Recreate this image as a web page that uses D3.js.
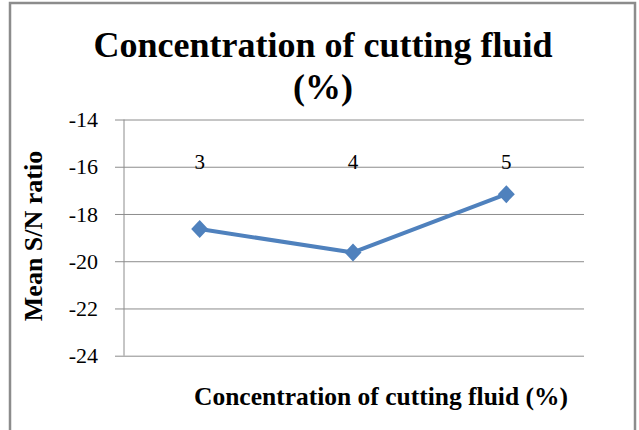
<!DOCTYPE html>
<html><head><meta charset="utf-8">
<script src="https://cdn.jsdelivr.net/npm/d3@7"></script>
<style>body{margin:0;background:#fff}svg{display:block}</style>
</head><body>
<svg id="c" width="639" height="430"></svg>
<script>
const categories = ["3", "4", "5"];
const values = [-18.64, -19.63, -17.16];
const yTicks = [-14, -16, -18, -20, -22, -24];
const title = ["Concentration of cutting fluid", "(%)"];
const xTitle = "Concentration of cutting fluid (%)";
const yTitle = "Mean S/N ratio";

const svg = d3.select("#c");
const serif = "'Liberation Serif','Times New Roman',serif";

// outer frame
svg.append("rect").attr("x", 10).attr("y", 3).attr("width", 625).attr("height", 440)
  .attr("fill", "#fff").attr("stroke", "#8c8c8c").attr("stroke-width", 2.5);

const L = 124, R = 584, T = 119.5, B = 355.7;
const x = d3.scaleBand().domain(categories).range([L, R]);
const y = d3.scaleLinear().domain([-24, -14]).range([B, T]);

// gridlines + ticks
const yAxis = d3.axisLeft(y).tickValues(yTicks).tickSize(-(R - L)).tickSizeOuter(0).tickPadding(26)
  .tickFormat(d => "-" + Math.abs(d));
const ga = svg.append("g").attr("transform", `translate(${L},0)`).call(yAxis);
ga.attr("font-family", null).attr("font-size", null);
ga.select(".domain").remove();
ga.selectAll(".tick line").attr("stroke", "#8c8c8c").attr("x1", -9).attr("stroke-width", 1);
ga.selectAll(".tick text").style("font-family", serif).style("font-size", "22px").attr("fill", "#000");

// vertical axis line
svg.append("line").attr("x1", L).attr("x2", L).attr("y1", T).attr("y2", B)
  .attr("stroke", "#8c8c8c").attr("stroke-width", 1);

// category labels near top
svg.append("g").selectAll("text").data(categories).join("text")
  .attr("x", d => x(d) + x.bandwidth() / 2 - 1).attr("y", 169)
  .attr("text-anchor", "middle").style("font-family", serif).style("font-size", "21px")
  .text(d => d);

// line
const pts = categories.map((c, i) => [x(c) + x.bandwidth() / 2 - 1, y(values[i])]);
svg.append("path").attr("d", d3.line()(pts)).attr("fill", "none")
  .attr("stroke", "#4F81BD").attr("stroke-width", 4).attr("stroke-linejoin", "round");
svg.append("g").selectAll("path").data(pts).join("path")
  .attr("transform", d => `translate(${d[0]},${d[1]})`)
  .attr("d", "M0,-9L8.5,0L0,9L-8.5,0Z").attr("fill", "#4F81BD");

// titles
svg.append("g").selectAll("text").data(title).join("text")
  .attr("x", 323).attr("y", (d, i) => 57 + i * 42).attr("text-anchor", "middle")
  .style("font-family", serif).attr("font-weight", "bold").style("font-size", "36px")
  .text(d => d);

svg.append("text").attr("x", 381).attr("y", 405).attr("text-anchor", "middle")
  .style("font-family", serif).attr("font-weight", "bold").style("font-size", "25.5px")
  .text(xTitle);

svg.append("text").attr("transform", "translate(42,236) rotate(-90)").attr("text-anchor", "middle")
  .style("font-family", serif).attr("font-weight", "bold").style("font-size", "26px")
  .text(yTitle);
</script>
</body></html>
